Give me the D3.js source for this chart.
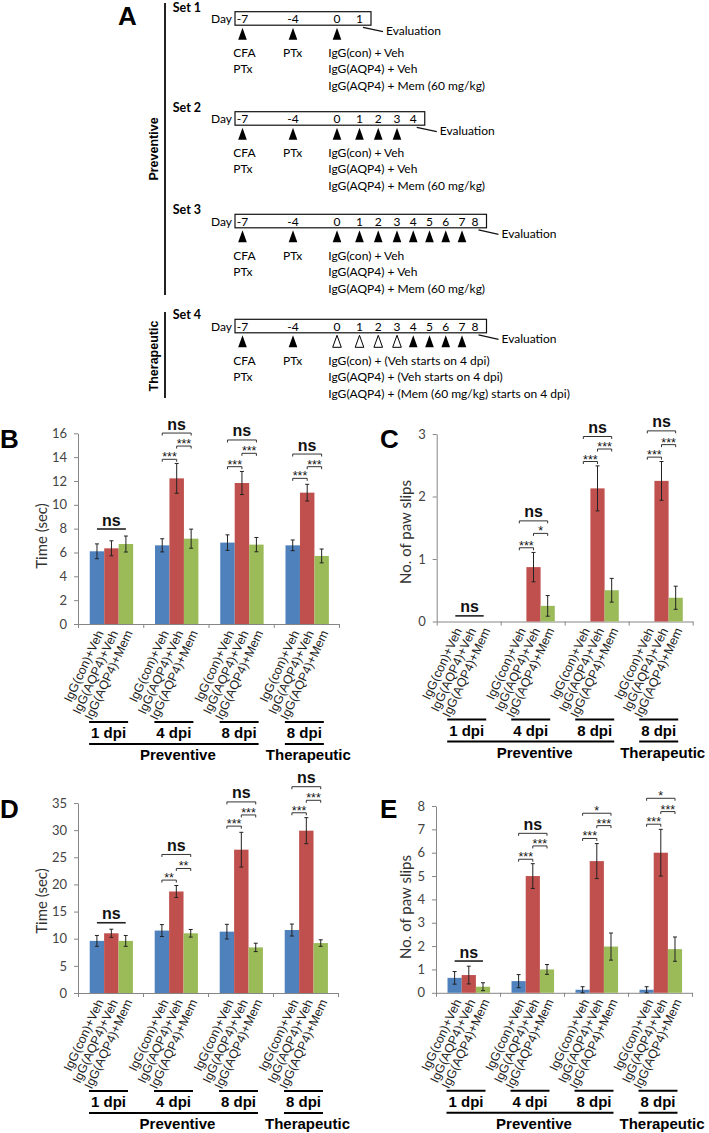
<!DOCTYPE html>
<html><head><meta charset="utf-8">
<script src="https://cdn.jsdelivr.net/npm/d3@7"></script>
<style>body{margin:0;background:#fff}svg{display:block}</style>
</head><body>
<svg id="c" width="709" height="1133"></svg>
<script>
// ---------- DATA ----------
const groupLabels = ["1 dpi", "4 dpi", "8 dpi", "8 dpi"];
const phaseLabels = ["Preventive", "Therapeutic"];
const seriesNames = ["IgG(con)+Veh", "IgG(AQP4)+Veh", "IgG(AQP4)+Mem"];
const seriesColors = ["#4F81BD", "#C0504D", "#9BBB59"];

// Panel B: time (sec)
const bMeans  = [[6.1, 6.35, 6.71], [6.6, 12.22, 7.16], [6.83, 11.83, 6.66], [6.6, 11.02, 5.71]];
const bErrors = [[0.62, 0.63, 0.67], [0.55, 1.25, 0.8], [0.65, 0.97, 0.6], [0.45, 0.7, 0.58]];
// Panel C: paw slips
const cMeans  = [[0, 0, 0], [0, 0.87, 0.25], [0, 2.13, 0.5], [0, 2.25, 0.38]];
const cErrors = [[0, 0, 0], [0, 0.235, 0.165], [0, 0.36, 0.19], [0, 0.31, 0.185]];
// Panel D: time (sec)
const dMeans  = [[9.6, 11.0, 9.6], [11.5, 18.7, 11.0], [11.3, 26.4, 8.4], [11.6, 29.9, 9.2]];
const dErrors = [[1.0, 0.75, 1.0], [1.1, 1.1, 0.7], [1.35, 3.2, 0.77], [1.1, 2.4, 0.6]];
// Panel E: paw slips
const eMeans  = [[0.64, 0.76, 0.26], [0.5, 5.0, 1.0], [0.13, 5.64, 1.98], [0.13, 6.0, 1.87]];
const eErrors = [[0.27, 0.38, 0.17], [0.28, 0.53, 0.21], [0.13, 0.75, 0.58], [0.13, 1.0, 0.52]];

// significance marks: group, from series, to series, label, level (data units), plain line
const bSig = [
  {g:0,a:0,b:2,t:"ns",v:7.97,plain:true},
  {g:1,a:0,b:2,t:"ns",v:16.02},{g:1,a:1,b:2,t:"***",v:14.93},{g:1,a:0,b:1,t:"***",v:13.82},
  {g:2,a:0,b:2,t:"ns",v:15.44},{g:2,a:1,b:2,t:"***",v:14.32},{g:2,a:0,b:1,t:"***",v:13.2},
  {g:3,a:0,b:2,t:"ns",v:14.26},{g:3,a:1,b:2,t:"***",v:13.2},{g:3,a:0,b:1,t:"***",v:12.22}
];
const cSig = [
  {g:0,a:0,b:2,t:"ns",v:0.09,plain:true},
  {g:1,a:0,b:2,t:"ns",v:1.61},{g:1,a:1,b:2,t:"*",v:1.41},{g:1,a:0,b:1,t:"***",v:1.18},
  {g:2,a:0,b:2,t:"ns",v:2.96},{g:2,a:1,b:2,t:"***",v:2.76},{g:2,a:0,b:1,t:"***",v:2.56},
  {g:3,a:0,b:2,t:"ns",v:3.05},{g:3,a:1,b:2,t:"***",v:2.83},{g:3,a:0,b:1,t:"***",v:2.63}
];
const dSig = [
  {g:0,a:0,b:2,t:"ns",v:12.94,plain:true},
  {g:1,a:0,b:2,t:"ns",v:25.52},{g:1,a:1,b:2,t:"**",v:22.94},{g:1,a:0,b:1,t:"**",v:20.8},
  {g:2,a:0,b:2,t:"ns",v:35.2},{g:2,a:1,b:2,t:"***",v:32.8},{g:2,a:0,b:1,t:"***",v:30.74},
  {g:3,a:0,b:2,t:"ns",v:38.0},{g:3,a:1,b:2,t:"***",v:35.5},{g:3,a:0,b:1,t:"***",v:33.2}
];
const eSig = [
  {g:0,a:0,b:2,t:"ns",v:1.36,plain:true},
  {g:1,a:0,b:2,t:"ns",v:6.83},{g:1,a:1,b:2,t:"***",v:6.29},{g:1,a:0,b:1,t:"***",v:5.72},
  {g:2,a:0,b:2,t:"*",v:7.69},{g:2,a:1,b:2,t:"***",v:7.16},{g:2,a:0,b:1,t:"***",v:6.61},
  {g:3,a:0,b:2,t:"*",v:8.33},{g:3,a:1,b:2,t:"***",v:7.76},{g:3,a:0,b:1,t:"***",v:7.22}
];

// Panel A: protocol timelines
const setNames = ["Set 1", "Set 2", "Set 3", "Set 4"];
const setDays = [[-7,-4,0,1],[-7,-4,0,1,2,3,4],[-7,-4,0,1,2,3,4,5,6,7,8],[-7,-4,0,1,2,3,4,5,6,7,8]];
const setFilled = [[-7,-4,0],[-7,-4,0,1,2,3],[-7,-4,0,1,2,3,4,5,6,7],[-7,-4,4,5,6,7]];
const setHollow = [[],[],[],[0,1,2,3]];
const induction1 = ["CFA", "PTx"];
const induction2 = ["PTx"];
const treatPrev = ["IgG(con) + Veh", "IgG(AQP4) + Veh", "IgG(AQP4) + Mem (60 mg/kg)"];
const treatTher = ["IgG(con) + (Veh starts on 4 dpi)", "IgG(AQP4) + (Veh starts on 4 dpi)", "IgG(AQP4) + (Mem (60 mg/kg) starts on 4 dpi)"];
const evalLabel = "Evaluation";

// ---------- DRAW ----------
const svg = d3.select("#c");
const SANS = "'Liberation Sans', Arial, sans-serif";
const CAL = "Lato, 'Open Sans', sans-serif";
const AFS = 12;

// Panel A
(function(){
  const g = svg.append("g");
  g.append("text").attr("x",118).attr("y",25).text("A")
    .attr("font-family",SANS).attr("font-weight","bold").attr("font-size",26);
  const dayX = d3.scaleLinear().domain([-7,-4,0,1,3,7,8]).range([242.5,293,337,359.5,397,462,475]);
  const tops = [11.7, 111.7, 214.3, 319.3];
  setNames.forEach((nm,i)=>{
    const top = tops[i];
    const days = setDays[i];
    const right = dayX(days[days.length-1]) + 11.5;
    g.append("text").attr("x",172.7).attr("y",top-4.5).attr("dy","0.35em").text(nm)
      .attr("font-family",CAL).attr("font-weight","bold").attr("font-size",12.5);
    g.append("text").attr("x",232).attr("y",top+7).attr("dy","0.35em").attr("text-anchor","end").text("Day")
      .attr("font-family",CAL).attr("font-size",AFS);
    g.append("rect").attr("x",235).attr("y",top).attr("width",right-235).attr("height",13.5)
      .attr("fill","none").attr("stroke","#111").attr("stroke-width",1.2);
    days.forEach(d=>{
      g.append("text").attr("x",dayX(d)).attr("y",top+7).attr("dy","0.35em").attr("text-anchor","middle")
        .text(String(d)).attr("font-family",CAL).attr("font-size",AFS);
    });
    const tri = d=>`M${dayX(d)},${top+16} L${dayX(d)+4.3},${top+28} L${dayX(d)-4.3},${top+28} Z`;
    setFilled[i].forEach(d=> g.append("path").attr("d",tri(d)).attr("fill","#000"));
    setHollow[i].forEach(d=> g.append("path").attr("d",tri(d)).attr("fill","#fff").attr("stroke","#000").attr("stroke-width",1));
    g.append("line").attr("x1",right-8).attr("y1",top+15.6).attr("x2",right+12).attr("y2",top+20)
      .attr("stroke","#111").attr("stroke-width",1.2);
    g.append("text").attr("x",right+15).attr("y",top+19.5).attr("dy","0.35em").text(evalLabel)
      .attr("font-family",CAL).attr("font-size",AFS);
    const rows = [41.5, 57.5, 74];
    induction1.forEach((t,k)=> g.append("text").attr("x",233.3).attr("y",top+rows[k]).attr("dy","0.35em").text(t)
      .attr("font-family",CAL).attr("font-size",AFS));
    induction2.forEach((t,k)=> g.append("text").attr("x",283).attr("y",top+rows[k]).attr("dy","0.35em").text(t)
      .attr("font-family",CAL).attr("font-size",AFS));
    (i===3?treatTher:treatPrev).forEach((t,k)=> g.append("text").attr("x",328.3).attr("y",top+rows[k]).attr("dy","0.35em").text(t)
      .attr("font-family",CAL).attr("font-size",AFS).attr("xml:space","preserve"));
  });
  g.append("line").attr("x1",165).attr("x2",165).attr("y1",3).attr("y2",295).attr("stroke","#222").attr("stroke-width",2);
  g.append("line").attr("x1",165).attr("x2",165).attr("y1",312).attr("y2",398).attr("stroke","#222").attr("stroke-width",2);
  g.append("text").attr("transform","translate(154,149) rotate(-90)").attr("dy","0.35em").attr("text-anchor","middle")
    .text(phaseLabels[0]).attr("font-family",SANS).attr("font-weight","bold").attr("font-size",12.5);
  g.append("text").attr("transform","translate(154,356) rotate(-90)").attr("dy","0.35em").attr("text-anchor","middle")
    .text(phaseLabels[1]).attr("font-family",SANS).attr("font-weight","bold").attr("font-size",12.5);
})();

function drawPanel(cfg){
  const g = svg.append("g");
  const x = d3.scaleBand().domain(d3.range(groupLabels.length)).range([cfg.left, cfg.right]);
  const gw = x.bandwidth();
  const xs = d3.scaleBand().domain(d3.range(seriesNames.length)).range([gw*0.18, gw*0.845]);
  const bw = xs.bandwidth();
  const y = d3.scaleLinear().domain([0, cfg.max]).range([cfg.bottom, cfg.top]);
  const cx = (i,j)=> x(i)+xs(j)+bw/2;

  // panel letter
  g.append("text").attr("x",cfg.lx).attr("y",cfg.ly).text(cfg.letter)
    .attr("font-family",SANS).attr("font-weight","bold").attr("font-size",26);

  // y axis
  const ya = g.append("g").attr("transform",`translate(${cfg.left},0)`)
    .call(d3.axisLeft(y).tickValues(d3.range(0, cfg.max+1e-9, cfg.step)).tickFormat(d3.format("~g"))
      .tickSize(4).tickSizeOuter(0).tickPadding(7));
  ya.select(".domain").attr("stroke","#868686");
  ya.selectAll(".tick line").attr("stroke","#868686");
  ya.selectAll(".tick text").attr("font-family",CAL).attr("font-size",13).attr("fill","#444");

  // x axis (group boundaries)
  const xb = d3.scaleLinear().domain([0, groupLabels.length]).range([cfg.left, cfg.right]);
  const xa = g.append("g").attr("transform",`translate(0,${cfg.bottom})`)
    .call(d3.axisBottom(xb).tickValues(d3.range(groupLabels.length+1)).tickFormat("").tickSize(4).tickSizeOuter(0));
  xa.select(".domain").attr("stroke","#868686");
  xa.selectAll(".tick line").attr("stroke","#868686");

  // y title
  g.append("text").attr("transform",`translate(${cfg.tx},${cfg.ty}) rotate(-90)`).attr("text-anchor","middle")
    .attr("dy","0.35em").text(cfg.title).attr("font-family",CAL).attr("font-size",cfg.tfs).attr("fill","#333");

  // bars
  cfg.means.forEach((row,i)=> row.forEach((v,j)=>{
    g.append("rect").attr("x",x(i)+xs(j)).attr("y",y(v)).attr("width",bw).attr("height",y(0)-y(v))
      .attr("fill",seriesColors[j]);
  }));
  // error bars
  cfg.means.forEach((row,i)=> row.forEach((v,j)=>{
    const e = cfg.errors[i][j];
    if(e<=0) return;
    const c = cx(i,j);
    const p = d3.path();
    p.moveTo(c, y(v+e)); p.lineTo(c, y(Math.max(0,v-e)));
    p.moveTo(c-2, y(v+e)); p.lineTo(c+2, y(v+e));
    p.moveTo(c-2, y(Math.max(0,v-e))); p.lineTo(c+2, y(Math.max(0,v-e)));
    g.append("path").attr("d",p.toString()).attr("stroke","#222").attr("stroke-width",1).attr("fill","none");
  }));

  // significance
  cfg.sig.forEach(s=>{
    const xa1 = cx(s.g,s.a), xb1 = cx(s.g,s.b), yy = y(s.v);
    if(s.plain){
      g.append("line").attr("x1",xa1).attr("x2",xb1).attr("y1",yy).attr("y2",yy).attr("stroke","#222").attr("stroke-width",1.6);
    } else {
      g.append("path").attr("d",`M${xa1},${yy+2.5}V${yy}H${xb1}V${yy+2.5}`).attr("stroke","#333").attr("stroke-width",1).attr("fill","none");
    }
    const isNs = s.t==="ns";
    g.append("text").attr("x",(xa1+xb1)/2).attr("y", isNs ? yy-3.5 : yy+2)
      .attr("text-anchor","middle").text(s.t)
      .attr("font-family",SANS).attr("font-weight",isNs?"bold":"normal").attr("font-size",isNs?16:12.5).attr("fill","#111");
  });

  // category labels
  cfg.means.forEach((row,i)=> row.forEach((v,j)=>{
    g.append("text").attr("transform",`translate(${cx(i,j)+3},${cfg.bottom+7}) rotate(-65)`)
      .attr("text-anchor","end").attr("dy","0.35em").text(seriesNames[j])
      .attr("font-family",SANS).attr("font-size",12.5).attr("fill","#222");
  }));

  // group brackets
  const gc = i=> x(i)+gw/2;
  const L = -21.5, R = 17.5;
  groupLabels.forEach((lab,i)=>{
    g.append("line").attr("x1",gc(i)+L).attr("x2",gc(i)+R).attr("y1",cfg.bottom+98).attr("y2",cfg.bottom+98)
      .attr("stroke","#000").attr("stroke-width",2);
    g.append("text").attr("x",gc(i)-2).attr("y",cfg.bottom+109).attr("dy","0.35em").attr("text-anchor","middle")
      .text(lab).attr("font-family",SANS).attr("font-weight","bold").attr("font-size",15);
  });
  const phases = [[0,2],[3,3]];
  phases.forEach((ph,k)=>{
    const x1 = gc(ph[0])+L, x2 = gc(ph[1])+R;
    g.append("line").attr("x1",x1).attr("x2",x2).attr("y1",cfg.bottom+120).attr("y2",cfg.bottom+120)
      .attr("stroke","#000").attr("stroke-width",2);
    g.append("text").attr("x",(x1+x2)/2+4).attr("y",cfg.bottom+131).attr("dy","0.35em").attr("text-anchor","middle")
      .text(phaseLabels[k]).attr("font-family",SANS).attr("font-weight","bold").attr("font-size",15);
  });
}

drawPanel({letter:"B",lx:0,ly:448,left:78,right:339,bottom:624,top:433.3,max:16,step:2,
  means:bMeans,errors:bErrors,sig:bSig,title:"Time (sec)",tx:42,ty:536,tfs:15});
drawPanel({letter:"C",lx:380,ly:448,left:436.7,right:692.7,bottom:621.5,top:434,max:3,step:1,
  means:cMeans,errors:cErrors,sig:cSig,title:"No. of paw slips",tx:406,ty:532,tfs:15});
drawPanel({letter:"D",lx:0,ly:818,left:78,right:338,bottom:993,top:803,max:35,step:5,
  means:dMeans,errors:dErrors,sig:dSig,title:"Time (sec)",tx:42,ty:901,tfs:15});
drawPanel({letter:"E",lx:380,ly:818,left:436,right:692,bottom:992.8,top:806,max:8,step:1,
  means:eMeans,errors:eErrors,sig:eSig,title:"No. of paw slips",tx:406,ty:907,tfs:15});
</script>
</body></html>
